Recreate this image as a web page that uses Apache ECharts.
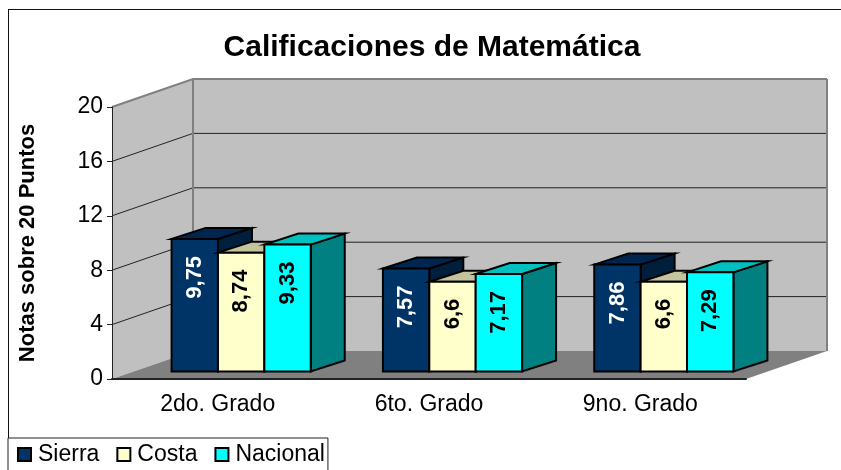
<!DOCTYPE html>
<html>
<head>
<meta charset="utf-8">
<title>Calificaciones de Matemática</title>
<script src="https://cdn.jsdelivr.net/npm/echarts@6/dist/echarts.min.js"></script>
<style>
    html, body { margin: 0; padding: 0; background: #fff; overflow: hidden; }
    #chart { width: 841px; height: 470px; }
</style>
</head>
<body>
<div id="chart"></div>
<script>
    const categories = ['2do. Grado', '6to. Grado', '9no. Grado'];
    const sierra = [9.75, 7.57, 7.86];
    const costa = [8.74, 6.6, 6.6];
    const nacional = [9.33, 7.17, 7.29];
    const yTicks = [0, 4, 8, 12, 16, 20];

    const FONT = '"Liberation Sans", Arial, sans-serif';
    // profundidad del piso/paredes y de las barras
    const WALL_DX = 81, WALL_DY = -28;
    const BAR_DX = 34, BAR_DY = -11;
    const BASE_DX = 23.5, BASE_DY = -7.5;

    const myChart = echarts.init(document.getElementById('chart'));

    function wallsItem(params, api) {
        const g = params.coordSys;
        const left = g.x, right = g.x + g.width, top = g.y, bottom = g.y + g.height;
        const children = [
            { type: 'polygon', shape: { points: [[left, top], [left + WALL_DX, top + WALL_DY], [left + WALL_DX, bottom + WALL_DY], [left, bottom]] }, style: { fill: '#c0c0c0' } },
            { type: 'rect', shape: { x: left + WALL_DX, y: top + WALL_DY, width: g.width, height: g.height }, style: { fill: '#c0c0c0' } },
            { type: 'polygon', shape: { points: [[left, bottom], [right, bottom], [right + WALL_DX, bottom + WALL_DY], [left + WALL_DX, bottom + WALL_DY]] }, style: { fill: '#808080' } }
        ];
        yTicks.forEach(function (t) {
            const y = api.coord([0, t])[1];
            if (t === 0) return;
            const edge = t === 20;
            children.push({
                type: 'polyline',
                shape: { points: [[left, y], [left + WALL_DX, y + WALL_DY], [right + WALL_DX, y + WALL_DY]] },
                style: { fill: 'none', stroke: edge ? '#808080' : '#222222', lineWidth: edge ? 2 : 1 }
            });
        });
        children.push({ type: 'line', shape: { x1: left + WALL_DX, y1: top + WALL_DY, x2: left + WALL_DX, y2: bottom + WALL_DY }, style: { stroke: '#808080', lineWidth: 2 } });
        children.push({ type: 'line', shape: { x1: right + WALL_DX, y1: top + WALL_DY, x2: right + WALL_DX, y2: bottom + WALL_DY }, style: { stroke: '#808080', lineWidth: 2 } });
        return { type: 'group', children: children };
    }

    function barSeries(name, values, pos, front, roof, side, labelColor) {
        return {
            name: name,
            type: 'custom',
            z: 2,
            itemStyle: { color: front, borderColor: '#000', borderWidth: 2 },
            encode: { x: 0, y: 1 },
            data: values.map(function (v, i) { return [i, v]; }),
            renderItem: function (params, api) {
                const band = api.size([1, 0])[0];
                const w = band * 0.2195;
                const c = api.coord([api.value(0), api.value(1)]);
                const base = api.coord([api.value(0), 0]);
                const x0 = c[0] + BASE_DX + (pos - 1.5) * w;
                const x1 = x0 + w;
                const yT = c[1] + BASE_DY, yB = base[1] + BASE_DY;
                const line = { stroke: '#000', lineWidth: 2, lineJoin: 'miter' };
                return {
                    type: 'group',
                    children: [
                        { type: 'polygon', shape: { points: [[x1, yT], [x1 + BAR_DX, yT + BAR_DY], [x1 + BAR_DX, yB + BAR_DY], [x1, yB]] }, style: Object.assign({ fill: side }, line) },
                        { type: 'polygon', shape: { points: [[x0, yT], [x0 + BAR_DX, yT + BAR_DY], [x1 + BAR_DX, yT + BAR_DY], [x1, yT]] }, style: Object.assign({ fill: roof }, line) },
                        { type: 'rect', shape: { x: x0, y: yT, width: w, height: yB - yT }, style: Object.assign({ fill: front }, line) },
                        {
                            type: 'text',
                            x: x0 + w / 2,
                            y: yT + 17,
                            rotation: Math.PI / 2,
                            style: {
                                text: String(api.value(1)).replace('.', ','),
                                fill: labelColor,
                                font: 'bold 22px ' + FONT,
                                align: 'right',
                                verticalAlign: 'middle'
                            }
                        }
                    ]
                };
            }
        };
    }

    const option = {
        animation: false,
        backgroundColor: '#fff',
        title: {
            text: 'Calificaciones de Matemática',
            left: 427,
            top: 28,
            textAlign: 'center',
            textStyle: { color: '#000', fontFamily: FONT, fontWeight: 'bold', fontSize: 30 }
        },
        legend: {
            left: 8,
            top: 438,
            padding: [5, 3, 12, 9],
            itemGap: 17,
            itemWidth: 13,
            itemHeight: 13,
            icon: 'rect',
            borderColor: '#222',
            borderWidth: 1,
            data: ['Sierra', 'Costa', 'Nacional'],
            textStyle: { color: '#000', fontFamily: FONT, fontSize: 23, padding: [0, 0, 0, 2] }
        },
        grid: { left: 112, top: 107, width: 634, height: 272 },
        xAxis: {
            type: 'category',
            data: categories,
            z: 5,
            axisLine: { lineStyle: { color: '#222', width: 2 } },
            axisTick: { length: 6, lineStyle: { color: '#222' } },
            axisLabel: { color: '#000', fontFamily: FONT, fontSize: 23, margin: 14 }
        },
        yAxis: {
            type: 'value',
            min: 0,
            max: 20,
            interval: 4,
            z: 5,
            name: 'Notas sobre 20 Puntos',
            nameLocation: 'middle',
            nameGap: 73,
            nameTextStyle: { color: '#000', fontFamily: FONT, fontWeight: 'bold', fontSize: 22 },
            splitLine: { show: false },
            axisLine: { show: true, lineStyle: { color: '#222' } },
            axisTick: { show: true, length: 5, lineStyle: { color: '#222' } },
            axisLabel: { color: '#000', fontFamily: FONT, fontSize: 23, margin: 9 }
        },
        series: [
            { name: 'planos', type: 'custom', z: 0, silent: true, data: [[0, 0]], encode: { x: 0, y: 1 }, renderItem: wallsItem },
            barSeries('Sierra', sierra, 0, '#003366', '#002650', '#001f3d', '#fff'),
            barSeries('Costa', costa, 1, '#ffffcc', '#c4c49c', '#99997a', '#000'),
            barSeries('Nacional', nacional, 2, '#00ffff', '#00c0c0', '#008080', '#000')
        ]
    };
    myChart.setOption(option);
</script>
<div style="position:absolute;left:8px;top:9px;width:833px;height:429px;box-sizing:border-box;border-left:1px solid #111;border-top:1px solid #111;pointer-events:none;"></div>
</body>
</html>
